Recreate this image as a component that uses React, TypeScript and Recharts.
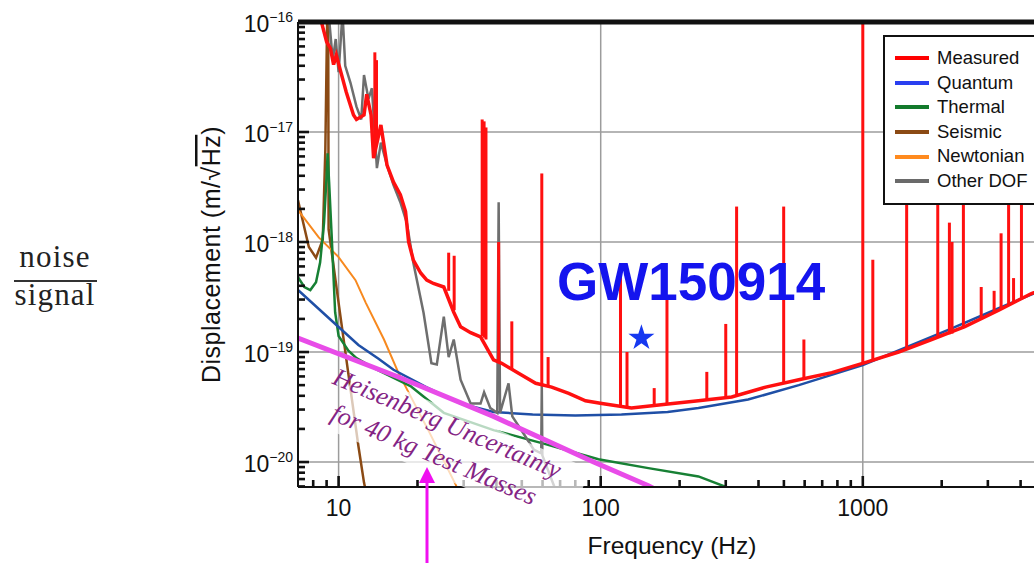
import React from 'react';
import { ComposedChart, Line, Scatter, XAxis, YAxis, ZAxis, ReferenceLine, Legend } from 'recharts';

// axis ranges (log-log)
const X_DOMAIN: [number, number] = [7, 5000];
const Y_DOMAIN: [number, number] = [5.93e-21, 1e-16];

const X_MAJOR = [10, 100, 1000];
const X_MINOR = [8, 9, 20, 30, 40, 50, 60, 70, 80, 90, 200, 300, 400, 500, 600, 700, 800, 900, 2000, 3000, 4000];
const Y_MAJOR = [1e-20, 1e-19, 1e-18, 1e-17, 1e-16];
const Y_MINOR = [
  6e-21, 7e-21, 8e-21, 9e-21,
  2e-20, 3e-20, 4e-20, 5e-20, 6e-20, 7e-20, 8e-20, 9e-20,
  2e-19, 3e-19, 4e-19, 5e-19, 6e-19, 7e-19, 8e-19, 9e-19,
  2e-18, 3e-18, 4e-18, 5e-18, 6e-18, 7e-18, 8e-18, 9e-18,
  2e-17, 3e-17, 4e-17, 5e-17, 6e-17, 7e-17, 8e-17, 9e-17,
];

// [frequency Hz, displacement m/sqrt(Hz)]
const MEASURED: [number, number][] = [
  [8.3, 2.0e-16], [8.6, 1.0e-16], [9.0, 6.6e-17], [9.3, 5.8e-17], [9.57, 4.1e-17], [9.8, 5.0e-17],
  [10.2, 3.5e-17], [10.7, 2.3e-17], [11.4, 1.43e-17], [11.7, 1.3e-17], [12.5, 1.43e-17], [12.8, 2.2e-17],
  [13.3, 1.43e-17], [13.6, 5.8e-18], [14.5, 1.16e-17], [15.3, 5.0e-18], [16.2, 3.5e-18], [17.2, 2.7e-18],
  [18.0, 1.9e-18], [18.5, 1.0e-18], [19.3, 6.8e-19], [20.6, 5.2e-19], [21.7, 4.5e-19], [23.0, 4.2e-19],
  [25.2, 3.9e-19], [27.5, 2.3e-19], [29.2, 1.7e-19], [31.9, 1.5e-19], [34.8, 1.37e-19], [39.0, 8.5e-20],
  [41.9, 7.9e-20], [48.6, 6.4e-20], [56.5, 5.2e-20], [65, 4.8e-20], [75.5, 4.2e-20], [87.5, 3.6e-20],
  [101, 3.4e-20], [131, 3.1e-20], [177, 3.35e-20], [236, 3.6e-20], [316, 3.9e-20], [426, 4.8e-20],
  [570, 5.6e-20], [762, 6.5e-20], [1020, 8.0e-20], [1370, 1.0e-19], [1830, 1.3e-19], [2450, 1.7e-19],
  [3300, 2.4e-19], [4400, 3.4e-19], [5000, 3.8e-19],
];

// measured line spikes: [frequency, foot, peak]
const SPIKES: [number, number, number][] = [
  [13.75, 7e-18, 5.3e-17], [13.95, 8e-18, 4.5e-17], [26.3, 3.6e-19, 8e-19], [27.6, 2.4e-19, 7.5e-19],
  [35.3, 1.4e-19, 1.3e-17], [35.9, 1.35e-19, 1.25e-17], [36.5, 1.3e-19, 1.1e-17], [40.8, 8.2e-20, 1.0e-18],
  [45.8, 7e-20, 1.9e-19], [59.6, 5e-20, 4.2e-18], [63, 4.9e-20, 9e-20], [119, 3.2e-20, 5.3e-19],
  [126, 3.15e-20, 1.0e-19], [160, 3.3e-20, 4.7e-20], [179, 3.35e-20, 3.3e-19], [254, 3.7e-20, 6.6e-20],
  [300, 3.8e-20, 1.8e-19], [330, 4e-20, 2.1e-18], [499, 5.2e-20, 2.1e-18], [596, 5.7e-20, 1.3e-19],
  [1000, 7.9e-20, 2e-16], [1092, 8.4e-20, 6.9e-19], [1470, 1.05e-19, 4e-18], [1932, 1.35e-19, 4e-18],
  [2140, 1.45e-19, 1.5e-18], [2190, 1.47e-19, 1.0e-18], [2420, 1.65e-19, 4e-18], [2830, 2e-19, 3.9e-19],
  [3170, 2.3e-19, 3.6e-19], [3370, 2.45e-19, 1.2e-18], [3600, 2.7e-19, 4e-18], [3760, 2.85e-19, 4.7e-19],
  [4030, 3.05e-19, 4e-18],
];

const QUANTUM: [number, number][] = [
  [7, 3.66e-19], [10, 1.69e-19], [11.9, 1.16e-19], [14.2, 8.7e-20], [16.2, 6.9e-20], [21.6, 4.8e-20],
  [29.2, 3.4e-20], [39, 2.85e-20], [55, 2.7e-20], [80, 2.65e-20], [120, 2.7e-20], [180, 2.85e-20],
  [236, 3.1e-20], [365, 3.7e-20], [570, 5.0e-20], [1000, 7.6e-20], [2130, 1.6e-19], [3300, 2.5e-19],
  [5000, 3.8e-19],
];

const THERMAL: [number, number][] = [
  [7, 4.8e-19], [7.4, 3.9e-19], [7.8, 3.66e-19], [8.2, 4.3e-19], [8.5, 6.5e-19], [8.8, 1.5e-18],
  [9.0, 4e-18], [9.08, 6.4e-18], [9.2, 3.5e-18], [9.4, 1.2e-18], [9.7, 2.3e-19], [10, 1.4e-19],
  [10.9, 1.03e-19], [11.7, 8.8e-20], [14, 6.9e-20], [18.8, 4.9e-20], [25.2, 2.8e-20], [39, 1.95e-20],
  [60.6, 1.47e-20], [98, 1.06e-20], [152, 8.8e-21], [236, 7.4e-21], [297, 6e-21], [320, 5.6e-21],
];

const SEISMIC: [number, number][] = [
  [7, 2.4e-18], [7.7, 9e-19], [8.2, 7.2e-19], [8.7, 1.05e-18], [8.9, 6.9e-18], [9.04, 1e-16],
  [9.12, 3e-16], [9.16, 1.3e-18], [10, 2.8e-19], [10.9, 6.3e-20], [11.9, 1.4e-20], [12.5, 6.5e-21],
  [12.8, 5e-21],
];

const NEWTONIAN: [number, number][] = [
  [7, 1.95e-18], [8.4, 1.1e-18], [10, 7.3e-19], [11.6, 4.5e-19], [12.7, 2.8e-19], [14.9, 1.3e-19],
  [16.9, 6.5e-20], [22.1, 1.9e-20], [28, 6.2e-21], [29, 5e-21],
];

const OTHER_DOF: [number, number][] = [
  [9.0, 3e-16], [9.16, 1.2e-16], [9.5, 4.5e-17], [9.75, 7e-17], [10, 3.5e-17], [10.35, 1.2e-16],
  [10.6, 4e-17], [11.1, 2.8e-17], [11.7, 1.7e-17], [12.2, 1.3e-17], [12.5, 3.3e-17], [13.0, 2.0e-17],
  [13.4, 2.5e-17], [14.0, 4.7e-18], [14.5, 8e-18], [15.3, 5e-18], [16.2, 3.3e-18], [17.2, 2.3e-18],
  [18.2, 1.5e-18], [19.3, 6.4e-19], [21.1, 2.26e-19], [22.6, 7.9e-20], [23.7, 7.7e-20], [25.2, 2.1e-19],
  [26.3, 9e-20], [27.5, 1.3e-19], [29.2, 5.6e-20], [31.9, 3.4e-20], [34.8, 3.4e-20], [35.9, 4.3e-20],
  [37.9, 3.1e-20], [40.3, 2.8e-20], [40.8, 2.3e-18], [41.3, 2.8e-20], [44.5, 5.2e-20], [46, 2.6e-20],
  [50.9, 1.8e-20], [55.5, 1.3e-20], [59.3, 1.2e-20], [59.6, 5e-20], [59.9, 1.15e-20], [66.5, 6e-21],
  [70, 5e-21],
];

// Heisenberg limit for 40 kg test masses
const SQL: [number, number][] = [
  [7, 1.34e-19], [17, 5.9e-20], [39, 2.6e-20], [94, 1.0e-20], [152, 6.1e-21], [165, 5.5e-21],
];

const EVENT = [{ f: 143, v: 1.34e-19 }];

const LEGEND_NAMES = ['Measured', 'Quantum', 'Thermal', 'Seismic', 'Newtonian', 'Other DOF'];
const LEGEND_COLORS = ['#ff0000', '#2a3ff0', '#137a2c', '#8b4a14', '#ff8a1e', '#6a6a6a'];

const rows = (pts: [number, number][]) => pts.map(([f, v]) => ({ f, v }));

const FONT = '"Liberation Sans", Arial, Helvetica, sans-serif';
const SERIF = '"Liberation Serif", "Times New Roman", serif';

// plot size in px, used to turn a tick length into a factor on the log axes
const PLOT_W = 748;
const PLOT_H = 465;
const xFactor = (px: number) => Math.pow(X_DOMAIN[1] / X_DOMAIN[0], px / PLOT_W);
const yFactor = (px: number) => Math.pow(Y_DOMAIN[1] / Y_DOMAIN[0], px / PLOT_H);

function XTick(props: any) {
  const { x, y, payload } = props;
  return (
    <text x={x} y={y + 21} textAnchor="middle" fontSize={23} fill="#111" fontFamily={FONT}>
      {payload.value}
    </text>
  );
}

function YTick(props: any) {
  const { x, y, payload } = props;
  const exp = Math.round(Math.log10(payload.value));
  return (
    <text x={x + 3} y={y + 9.5} textAnchor="end" fontSize={23} fill="#111" fontFamily={FONT}>
      10
      <tspan fontSize={14} dy={-9.5}>{'\u2212' + String(-exp)}</tspan>
    </text>
  );
}

function LegendBox() {
  return (
    <div style={{ width: 170, height: 170, border: '2px solid #111', background: '#fff', boxSizing: 'border-box', paddingTop: 9, fontFamily: FONT }}>
      {LEGEND_NAMES.map((n, i) => (
        <div key={n} style={{ display: 'flex', alignItems: 'center', height: 24.6 }}>
          <span style={{ display: 'inline-block', width: 34, height: 4, background: LEGEND_COLORS[i], marginLeft: 10, marginRight: 8 }} />
          <span style={{ fontSize: 18.5, color: '#111', lineHeight: 1 }}>{n}</span>
        </div>
      ))}
    </div>
  );
}

export default function App() {
  const xTickMarks = [...X_MINOR.map((f) => [f, 7]), ...X_MAJOR.map((f) => [f, 11])];
  const yTickMarks = [...Y_MINOR.map((v) => [v, 7]), ...Y_MAJOR.slice(0, 4).map((v) => [v, 11])];
  return (
    <div style={{ position: 'absolute', left: 0, top: 0, width: 1034, height: 563, overflow: 'hidden', background: '#fff', fontFamily: FONT }}>
      <ComposedChart width={1080} height={563} margin={{ top: 22, right: 34, bottom: 46, left: 238 }}>
        <XAxis
          dataKey="f" type="number" scale="log" domain={X_DOMAIN} allowDataOverflow
          ticks={X_MAJOR} interval={0} tick={<XTick />} tickLine={false} tickSize={6} tickMargin={2} height={30}
          axisLine={{ stroke: '#111', strokeWidth: 2 }}
          label={{
            content: (p: any) => (
              <text x={p.viewBox.x + p.viewBox.width / 2} y={554} textAnchor="middle" fontSize={24.5} fill="#111" fontFamily={FONT}>
                Frequency (Hz)
              </text>
            ),
          }}
        />
        <YAxis
          dataKey="v" type="number" scale="log" domain={Y_DOMAIN} allowDataOverflow
          ticks={Y_MAJOR} interval={0} tick={<YTick />} tickLine={false} tickSize={6} tickMargin={2} width={60}
          axisLine={{ stroke: '#111', strokeWidth: 2 }}
          label={{
            content: (p: any) => (
              <text
                transform={`translate(${p.viewBox.x - 18}, ${p.viewBox.y + p.viewBox.height / 2}) rotate(-90)`}
                textAnchor="middle" fontSize={25} letterSpacing={0.5} fill="#111" fontFamily={FONT}
              >
                Displacement (m/{'\u221A'}<tspan style={{ textDecoration: 'overline' }}>Hz</tspan>)
              </text>
            ),
          }}
        />
        <ZAxis range={[210, 210]} />

        {X_MAJOR.map((f) => (
          <ReferenceLine key={'gx' + f} x={f} stroke="#9c9c9c" strokeWidth={1.5} />
        ))}
        {Y_MAJOR.slice(0, 4).map((v) => (
          <ReferenceLine key={'gy' + v} y={v} stroke="#9c9c9c" strokeWidth={1.5} />
        ))}

        <Line data={rows(SEISMIC)} dataKey="v" stroke="#8b4a14" strokeWidth={2.5} dot={false} activeDot={false} isAnimationActive={false} />
        <Line data={rows(NEWTONIAN)} dataKey="v" stroke="#f7891f" strokeWidth={2} dot={false} activeDot={false} isAnimationActive={false} />
        <Line data={rows(THERMAL)} dataKey="v" stroke="#178034" strokeWidth={2.5} dot={false} activeDot={false} isAnimationActive={false} />
        <Line data={rows(QUANTUM)} dataKey="v" stroke="#1f4fa6" strokeWidth={2.5} dot={false} activeDot={false} isAnimationActive={false} />
        <Line data={rows(OTHER_DOF)} dataKey="v" stroke="#6e6e6e" strokeWidth={2.5} dot={false} activeDot={false} isAnimationActive={false} />
        <Line data={rows(MEASURED)} dataKey="v" stroke="#ff1010" strokeWidth={3.5} dot={false} activeDot={false} isAnimationActive={false} />
        {SPIKES.map(([f, b, p]) => (
          <ReferenceLine key={'s' + f} segment={[{ x: f, y: b }, { x: f, y: p }]} stroke="#ff1010" strokeWidth={3} ifOverflow="hidden" />
        ))}
        <Line data={rows(SQL)} dataKey="v" stroke="#e84ce8" strokeWidth={5} dot={false} activeDot={false} isAnimationActive={false} />
        <Scatter data={EVENT} dataKey="v" shape="star" fill="#1638f0" isAnimationActive={false} />

        {/* inward tick marks on the bottom and left edges */}
        {xTickMarks.map(([f, len]) => (
          <ReferenceLine key={'tx' + f} segment={[{ x: f, y: Y_DOMAIN[0] }, { x: f, y: Y_DOMAIN[0] * yFactor(len) }]} stroke="#111" strokeWidth={2.6} ifOverflow="hidden" />
        ))}
        {yTickMarks.map(([v, len]) => (
          <ReferenceLine key={'ty' + v} segment={[{ x: X_DOMAIN[0], y: v }, { x: X_DOMAIN[0] * xFactor(len), y: v }]} stroke="#111" strokeWidth={2.6} ifOverflow="hidden" />
        ))}

        <ReferenceLine y={1e-16} stroke="#111" strokeWidth={5} />
        <Legend layout="vertical" align="center" verticalAlign="middle" wrapperStyle={{ left: 883, top: 35, width: 170, height: 170 }} content={() => <LegendBox />} />
      </ComposedChart>

      <svg width={1034} height={563} style={{ position: 'absolute', left: 0, top: 0, pointerEvents: 'none' }}>
        <g fontFamily={SERIF} fill="#222" fontSize={31} letterSpacing={1.2} textAnchor="middle">
          <text x={55} y={267}>noise</text>
          <line x1={14} x2={97} y1={281} y2={281} stroke="#333" strokeWidth={2} />
          <text x={55} y={305}>signal</text>
        </g>
        <text x={557} y={300} fontSize={53} fontWeight="bold" fill="#1414ee" fontFamily={FONT}>GW150914</text>
        <g transform="translate(444 431) rotate(23)">
          <rect x={-105} y={-22} width={255} height={66} fill="#fff" fillOpacity={0.7} />
          <g fontFamily={SERIF} fontStyle="italic" fontSize={25.5} fill="#842484" textAnchor="middle">
            <text x={0} y={0}>Heisenberg Uncertainty</text>
            <text x={0} y={34}>for 40 kg Test Masses</text>
          </g>
        </g>
        <line x1={427} x2={427} y1={563} y2={480} stroke="#f010f0" strokeWidth={3} />
        <polygon points="427,467 419,483 435,483" fill="#f010f0" />
      </svg>
    </div>
  );
}
